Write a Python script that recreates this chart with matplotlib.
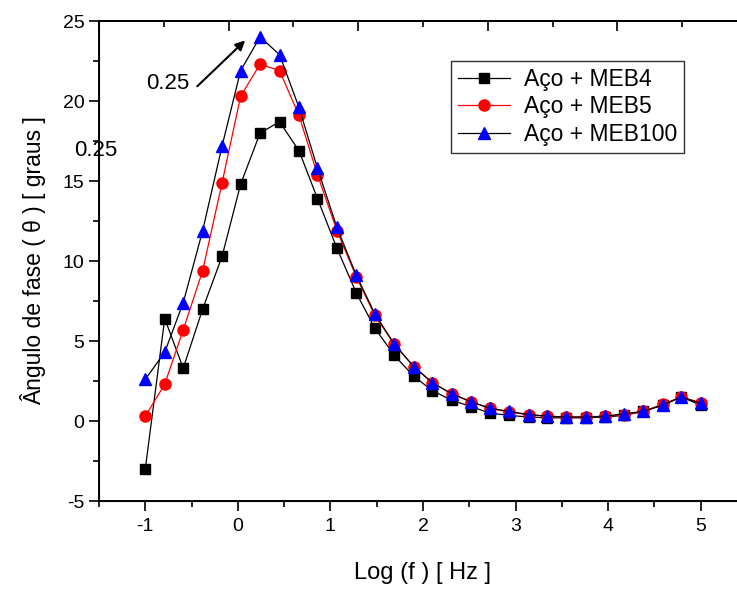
import numpy as np
import matplotlib.pyplot as plt
from matplotlib.ticker import MultipleLocator

plt.rcParams['font.family'] = ['Liberation Sans', 'DejaVu Sans']
plt.rcParams['axes.unicode_minus'] = False

# log(f) positions of the measurements
log_f = [-1.00, -0.79, -0.59, -0.38, -0.17, 0.03, 0.24, 0.45, 0.66, 0.86,
         1.07, 1.28, 1.48, 1.69, 1.90, 2.10, 2.31, 2.52, 2.72, 2.93,
         3.14, 3.34, 3.55, 3.76, 3.97, 4.17, 4.38, 4.59, 4.79, 5.00]

meb4 = [-3.0, 6.4, 3.3, 7.0, 10.3, 14.8, 18.0, 18.7, 16.9, 13.9,
        10.8, 8.0, 5.8, 4.1, 2.8, 1.9, 1.3, 0.9, 0.5, 0.35,
        0.25, 0.2, 0.2, 0.2, 0.25, 0.35, 0.6, 1.0, 1.5, 1.0]

meb5 = [0.3, 2.3, 5.7, 9.4, 14.9, 20.3, 22.3, 21.9, 19.1, 15.4,
        11.9, 9.0, 6.6, 4.8, 3.4, 2.4, 1.7, 1.2, 0.8, 0.55,
        0.4, 0.3, 0.25, 0.25, 0.3, 0.4, 0.6, 1.05, 1.5, 1.15]

meb100 = [2.6, 4.3, 7.4, 11.9, 17.2, 21.9, 24.0, 22.9, 19.6, 15.8,
          12.1, 9.1, 6.7, 4.8, 3.4, 2.4, 1.7, 1.2, 0.8, 0.6,
          0.4, 0.3, 0.25, 0.25, 0.3, 0.45, 0.6, 1.0, 1.5, 1.1]

fig = plt.figure(figsize=(7.37, 5.89), dpi=100)
ax = fig.add_axes([99/737, 88/589, 648/737, 480/589])

ax.plot(log_f, meb4, color='k', lw=0.9, marker='s', ms=7.5, mfc='k', mec='k', label='Aço + MEB4')
ax.plot(log_f, meb5, color='red', lw=0.9, marker='o', ms=8, mfc='red', mec='red', label='Aço + MEB5')
ax.plot(log_f, meb100, color='k', lw=0.9, marker='^', ms=8.5, mfc='blue', mec='blue', label='Aço + MEB100')

ax.set_xlim(-1.5, 5.5)
ax.set_ylim(-5, 25)
ax.xaxis.set_major_locator(MultipleLocator(1))
ax.xaxis.set_minor_locator(MultipleLocator(0.5))
ax.yaxis.set_major_locator(MultipleLocator(5))
ax.yaxis.set_minor_locator(MultipleLocator(2.5))
ax.tick_params(which='major', direction='out', length=7, width=1.2, labelsize=14)
ax.tick_params(which='minor', direction='out', length=4, width=1.2)
ax.tick_params(axis='x', pad=5)
ax.spines['right'].set_visible(False)
for s in ['left', 'bottom', 'top']:
    ax.spines[s].set_linewidth(1.4)

# top axis: unlabeled ticks only
top = ax.twiny()
top.set_xlim(0, 10)
top.xaxis.set_major_locator(MultipleLocator(2))
top.xaxis.set_minor_locator(MultipleLocator(1))
top.tick_params(which='major', direction='in', length=7, width=1.2, labeltop=False)
top.tick_params(which='minor', direction='in', length=4, width=1.2)
top.spines['right'].set_visible(False)
top.spines['top'].set_linewidth(1.4)

ax.set_xlabel('Log (f ) [ Hz ]', fontsize=17, labelpad=20)
ax.set_ylabel('Ângulo de fase ( θ ) [ graus ]', fontsize=16.5, labelpad=12)

top.text(-0.755, 21.1, '0.25', fontsize=16, ha='center', va='center',
         transform=ax.transData)
ax.annotate('', xy=(0.10, 23.9), xytext=(-0.46, 20.8),
            arrowprops=dict(arrowstyle='-|>', color='k', lw=1.5, mutation_scale=14))
top.text(-1.53, 16.9, '0.25', fontsize=16, ha='center', va='center', clip_on=False,
         transform=ax.transData, zorder=5)

leg = ax.legend(loc='upper left', bbox_to_anchor=(0.543, 0.917), fontsize=16.5,
                frameon=True, fancybox=False, edgecolor='k', handlelength=2.3,
                borderpad=0.3, labelspacing=0.2, handletextpad=0.6, borderaxespad=0)
leg.get_frame().set_linewidth(1.0)

fig.savefig('out.png', dpi=100)
